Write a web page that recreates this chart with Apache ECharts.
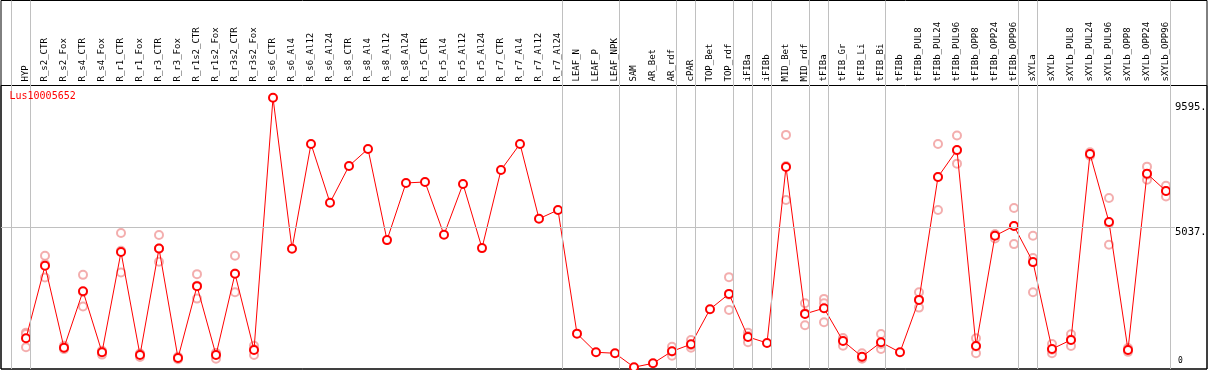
<!DOCTYPE html>
<html>
<head>
<meta charset="utf-8">
<script src="https://cdn.jsdelivr.net/npm/echarts@6/dist/echarts.min.js"></script>
<style>
html,body{margin:0;padding:0;background:#fff;}
#chart{width:1209px;height:370px;}
</style>
</head>
<body>
<div id="chart"></div>
<script>
var seriesName = 'Lus10005652';
var categories = ['HYP','R_s2_CTR','R_s2_Fox','R_s4_CTR','R_s4_Fox','R_r1_CTR','R_r1_Fox','R_r3_CTR','R_r3_Fox','R_r1s2_CTR','R_r1s2_Fox','R_r3s2_CTR','R_r3s2_Fox','R_s6_CTR','R_s6_Al4','R_s6_Al12','R_s6_Al24','R_s8_CTR','R_s8_Al4','R_s8_Al12','R_s8_Al24','R_r5_CTR','R_r5_Al4','R_r5_Al12','R_r5_Al24','R_r7_CTR','R_r7_Al4','R_r7_Al12','R_r7_Al24','LEAF_N','LEAF_P','LEAF_NPK','SAM','AR_Bet','AR_rdf','cPAR','TOP_Bet','TOP_rdf','iFIBa','iFIBb','MID_Bet','MID_rdf','tFIBa','tFIB_Gr','tFIB_Li','tFIB_Bi','tFIBb','tFIBb_PUL8','tFIBb_PUL24','tFIBb_PUL96','tFIBb_OPP8','tFIBb_OPP24','tFIBb_OPP96','sXYLa','sXYLb','sXYLb_PUL8','sXYLb_PUL24','sXYLb_PUL96','sXYLb_OPP8','sXYLb_OPP24','sXYLb_OPP96'];
var means = [977,3621,633,2696,465,4123,366,4254,256,2879,366,3329,549,9756,4243,8073,5926,7268,7890,4561,6647,6683,4755,6610,4269,7122,8073,5341,5659,1145,465,428,-80,62,501,757,2037,2597,1024,805,7232,1866,2074,878,304,830,465,2378,6866,7854,695,4719,5074,3757,585,915,7707,5220,549,6987,6354];
var rep1 = [1182,3987,700,3292,520,4818,420,4744,300,3318,428,3987,706,null,null,null,null,null,null,null,null,null,null,null,null,null,null,null,null,null,null,null,null,null,669,915,null,3208,1182,null,8402,2257,2414,940,428,1134,null,2659,8073,8377,977,4774,5732,4719,768,1123,7766,6098,620,7243,6548];
var rep2 = [647,3193,580,2133,380,3376,290,3768,210,2425,230,2659,366,null,null,null,null,null,null,null,null,null,null,null,null,null,null,null,null,null,null,null,null,null,340,633,null,2012,830,null,6025,1452,1562,706,230,585,null,2096,5659,7353,428,4620,4415,2659,428,695,7645,4390,480,6767,6156];
var rep3 = [1134,3683,620,2663,495,4175,390,4250,258,2894,440,3341,575,null,null,null,null,null,null,null,null,null,null,null,null,null,null,null,null,null,null,null,null,null,494,723,null,2571,1060,null,7269,1889,2257,988,254,771,null,2379,6866,7832,680,4763,5075,3903,559,927,7710,5172,549,6951,6358];
var groupEnds = [-1,0,28,31,34,35,37,38,39,41,42,45,52,53,60];
var yTickValues = [5037,9595];
var yZeroTick = [0];

var X_MIN = -1.316, X_MAX = 62.158;
var Y_MIN = -146, Y_MAX = 10206;
var FONT = 'DejaVu Sans Mono';

function pts(arr){ var o=[]; for(var i=0;i<arr.length;i++){ if(arr[i]!==null) o.push([i,arr[i]]); } return o; }
var repPoints = pts(rep1).concat(pts(rep2)).concat(pts(rep3));
var meanPoints = pts(means);
var catIdx = categories.map(function(c,i){return i;});

var chart = echarts.init(document.getElementById('chart'), null, {renderer:'canvas'});
chart.setOption({
  animation:false,
  backgroundColor:'#ffffff',
  title:{text:seriesName,left:9.5,top:91,padding:0,textStyle:{color:'#ff0000',fontSize:10,fontWeight:'normal',fontFamily:FONT}},
  grid:[
    {left:1,right:2,top:0.5,bottom:1,show:true,borderColor:'#000',borderWidth:1,backgroundColor:'transparent',containLabel:false,outerBoundsMode:'none'},
    {left:1,right:2,top:85.5,bottom:1,show:true,borderColor:'#000',borderWidth:1,backgroundColor:'transparent',containLabel:false,outerBoundsMode:'none'}
  ],
  xAxis:[
    {gridIndex:0,type:'value',min:X_MIN,max:X_MAX,show:false},
    {gridIndex:1,type:'value',min:X_MIN,max:X_MAX,position:'top',
     axisLine:{show:false},axisTick:{show:false},splitLine:{show:false},
     axisLabel:{show:true,customValues:catIdx,rotate:90,margin:4,fontSize:9,fontFamily:FONT,color:'#000',
       formatter:function(v){return categories[Math.round(v)]||'';}}}
  ],
  yAxis:[
    {gridIndex:0,type:'value',min:0,max:1,show:false},
    {gridIndex:1,type:'value',min:Y_MIN,max:Y_MAX,position:'right',
     axisLine:{show:false},axisTick:{show:false},splitLine:{show:false},
     axisLabel:{inside:true,margin:32,align:'left',customValues:yTickValues,verticalAlign:'top',fontSize:10.5,fontFamily:FONT,color:'#000',
       formatter:function(v){return v+'.';}}},
    {gridIndex:1,type:'value',min:Y_MIN,max:Y_MAX,position:'right',
     axisLine:{show:false},axisTick:{show:false},splitLine:{show:false},
     axisLabel:{inside:true,margin:29,align:'left',customValues:yZeroTick,verticalAlign:'bottom',fontSize:8,fontFamily:FONT,color:'#000',
       formatter:function(v){return String(v);}}}
  ],
  series:[
    {type:'scatter',xAxisIndex:0,yAxisIndex:0,data:[],silent:true,z:1,
     markLine:{silent:true,symbol:['none','none'],label:{show:false},
       lineStyle:{color:'#c0c0c0',width:1,type:'solid'},
       data:groupEnds.map(function(g){return {xAxis:g+0.237};})}},
    {type:'scatter',xAxisIndex:1,yAxisIndex:1,data:repPoints,symbol:'emptyCircle',symbolSize:8,z:3,
     itemStyle:{color:'#f09a9a',borderColor:'#f09a9a',borderWidth:1.2},silent:true},
    {type:'line',name:seriesName,xAxisIndex:1,yAxisIndex:1,data:meanPoints,symbol:'emptyCircle',symbolSize:8,z:4,
     lineStyle:{color:'#ff0000',width:1},itemStyle:{color:'#ff0000',borderColor:'#ff0000',borderWidth:1.2},
     markLine:{silent:true,symbol:['none','none'],label:{show:false},
       lineStyle:{color:'#c0c0c0',width:1,type:'solid'},
       data:[[{coord:[X_MIN,yTickValues[0]]},{coord:[60.47,yTickValues[0]]}]]}}
  ]
});
</script>
</body>
</html>
